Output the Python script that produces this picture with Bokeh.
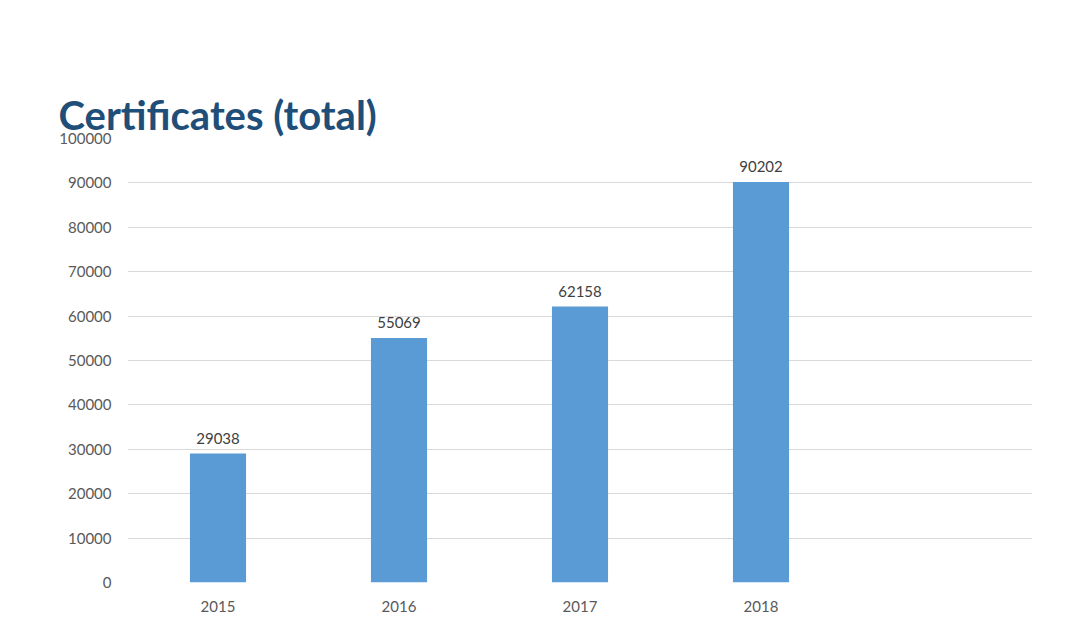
from bokeh.plotting import figure
from bokeh.models import ColumnDataSource, FactorRange, Range1d, LabelSet, SingleIntervalTicker, Title
from bokeh.core.properties import value
from bokeh.embed import file_html
from bokeh.resources import INLINE

years = ["2015", "2016", "2017", "2018"]
certificates = [29038, 55069, 62158, 90202]
slots = years + [" "]
title_text = "Certificates (total)"

src = ColumnDataSource(dict(year=years, value=certificates, label=[str(v) for v in certificates]))

p = figure(width=1068, height=628, output_backend="svg", toolbar_location=None,
           x_range=FactorRange(factors=slots, range_padding=0),
           y_range=Range1d(0, 100000),
           min_border_left=127, min_border_right=36, min_border_top=138, min_border_bottom=46)
p.outline_line_color = None
p.background_fill_color = "white"
p.border_fill_color = "white"
p.title.text = ""
p.title.standoff = 0
p.title.text_font_size = "1px"

# visible title first, then an invisible spacer which sits between it and the frame
main_title = Title(text=title_text, align="left", offset=-69, standoff=0,
                   text_font="Lato", text_font_style="bold", text_font_size="40px",
                   text_color="#1F4E79")
p.add_layout(main_title, "above")
spacer = Title(text=" ", text_font_size="1px", text_alpha=0, standoff=53)
p.add_layout(spacer, "above")

p.vbar(x="year", top="value", width=0.31, source=src, color="#5B9BD5", line_color=None)

p.xgrid.grid_line_color = None
p.ygrid.grid_line_color = "#D9D9D9"
p.ygrid.grid_line_width = 1
p.yaxis.ticker = SingleIntervalTicker(interval=10000)
p.yaxis.formatter.use_scientific = False

for ax in (p.xaxis, p.yaxis):
    ax.axis_line_color = None
    ax.major_tick_line_color = None
    ax.minor_tick_line_color = None
    ax.major_label_text_font = "Lato"
    ax.major_label_text_font_size = "15px"
    ax.major_label_text_color = "#595959"
p.xaxis.major_label_standoff = 8
p.yaxis.major_label_standoff = 10

labels = LabelSet(x="year", y="value", text="label", source=src, text_align="center",
                  text_baseline="bottom", y_offset=10, text_font=value("Lato"),
                  text_font_size=value("15px"), text_color=value("#404040"))
p.add_layout(labels)

open("out.html", "w").write(file_html(p, INLINE))
